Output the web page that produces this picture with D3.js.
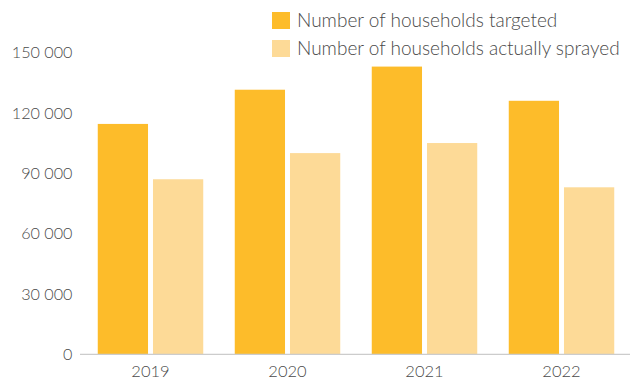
<!DOCTYPE html>
<html>
<head>
<meta charset="utf-8">
<script src="https://cdn.jsdelivr.net/npm/d3@7"></script>
<style>
  html, body { margin: 0; padding: 0; background: #fff; }
  svg { display: block; }
  text { font-family: Lato, "Noto Sans", sans-serif; font-weight: 300; }
</style>
</head>
<body>
<svg id="chart" width="635" height="383"></svg>
<script>
// Indoor residual spraying coverage by year
const years = ["2019", "2020", "2021", "2022"];
const seriesNames = ["Number of households targeted", "Number of households actually sprayed"];
const targeted = [114500, 131500, 143000, 126000];
const sprayed = [87000, 100000, 105000, 83000];
const yTicks = [0, 30000, 60000, 90000, 120000, 150000];
const colors = ["#fdbc2a", "#fdda97"];
const textColor = "#4a4a4a";

const svg = d3.select("#chart");
const width = 635, height = 383;
const margin = { top: 52.5, right: 5, bottom: 29, left: 82 };
const baseline = height - margin.bottom + 0.3;

const x0 = d3.scaleBand()
  .domain(years)
  .range([margin.left, width - margin.right])
  .paddingInner(0.23)
  .paddingOuter(0.115);

const x1 = d3.scaleBand()
  .domain([0, 1])
  .range([0, x0.bandwidth()])
  .paddingInner(0.09);

const y = d3.scaleLinear()
  .domain([0, 150000])
  .range([baseline, margin.top]);

const fmt = v => d3.format(",")(v).replace(/,/g, " ");

// y axis labels (no line, no ticks)
const yAxis = svg.append("g")
  .attr("transform", `translate(${margin.left - 9.5},0)`)
  .call(d3.axisLeft(y).tickValues(yTicks).tickFormat(fmt).tickSize(0).tickPadding(0));
yAxis.select(".domain").remove();
yAxis.attr("font-family", null).attr("font-size", null);
yAxis.selectAll("text").attr("font-size", 16.2).attr("fill", textColor);

// bars
const rows = years.map((yr, i) => ({ year: yr, values: [targeted[i], sprayed[i]] }));
const groups = svg.append("g").selectAll("g")
  .data(rows)
  .join("g")
  .attr("transform", d => `translate(${x0(d.year)},0)`);

groups.selectAll("rect")
  .data(d => d.values.map((v, k) => ({ k, v })))
  .join("rect")
  .attr("x", d => x1(d.k))
  .attr("width", x1.bandwidth())
  .attr("y", d => y(d.v))
  .attr("height", d => y(0) - y(d.v))
  .attr("fill", d => colors[d.k]);

// x axis
const xAxis = svg.append("g")
  .attr("transform", `translate(0,${baseline})`)
  .call(d3.axisBottom(x0).tickSize(0).tickPadding(11));
xAxis.attr("font-family", null).attr("font-size", null);
xAxis.select(".domain")
  .attr("d", `M${margin.left - 2},0H${width - 5}`)
  .attr("stroke", "#ccc").attr("stroke-width", 1.3);
xAxis.selectAll("text").attr("font-size", 16.5).attr("fill", textColor);

// legend
const legend = svg.append("g").attr("transform", "translate(272,12)");
const items = legend.selectAll("g")
  .data(seriesNames)
  .join("g")
  .attr("transform", (d, i) => `translate(0,${i * 28})`);
items.append("rect")
  .attr("width", 18).attr("height", 17)
  .attr("fill", (d, i) => colors[i]);
items.append("text")
  .attr("x", 25).attr("y", 15)
  .attr("font-size", 19)
  .attr("fill", textColor)
  .text(d => d);
</script>
</body>
</html>
